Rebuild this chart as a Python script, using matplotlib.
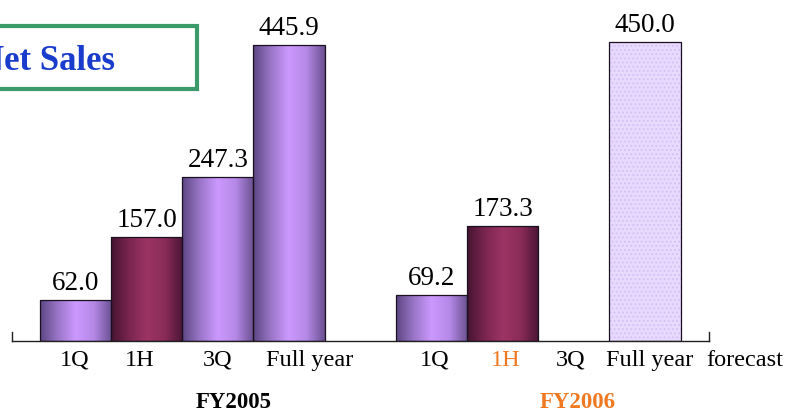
import numpy as np
import matplotlib.pyplot as plt
from matplotlib.colors import LinearSegmentedColormap
from matplotlib.patches import Rectangle

periods = ['1Q', '1H', '3Q', 'Full year']
fy2005 = [62.0, 157.0, 247.3, 445.9]
fy2006 = [69.2, 173.3, None, 450.0]   # 3Q not reported yet, full year is forecast
groups = ['FY2005', 'FY2006']

plt.rcParams['font.family'] = ['Liberation Serif', 'DejaVu Serif']
plt.rcParams['hatch.linewidth'] = 0.8

W, H = 786, 414
fig = plt.figure(figsize=(W / 100, H / 100), dpi=100)
# axes from x=12px to 709px, baseline at y=342px
ax = fig.add_axes([12 / W, (H - 342) / H, (709 - 12) / W, 342 / H])
ax.set_xlim(-0.89, 8.9)
ax.set_ylim(0, 515)

purple = LinearSegmentedColormap.from_list(
    'purple', ['#5c4682', '#9a76c8', '#cc99ff', '#b488e6', '#6a5090'])
maroon = LinearSegmentedColormap.from_list(
    'maroon', ['#451430', '#7a2550', '#9c3464', '#8a2c58', '#4a1535'])
grad = np.linspace(0, 1, 256).reshape(1, -1)


def gradient_bar(x, h, cmap):
    b = ax.bar(x, h, width=1.0, color='none', edgecolor='#1a1020',
               linewidth=0.9, zorder=3)[0]
    im = ax.imshow(grad, cmap=cmap, aspect='auto', zorder=2,
                   extent=(x - 0.5, x + 0.5, 0, h), interpolation='bicubic')
    im.set_clip_path(b)
    return b


x2005 = np.arange(4)
x2006 = np.arange(4) + 5

for i, (x, v) in enumerate(zip(x2005, fy2005)):
    gradient_bar(x, v, maroon if periods[i] == '1H' else purple)
    ax.text(x, v + 16.5, f'{v:.1f}', ha='center', va='baseline', fontsize=19.5)

for i, (x, v) in enumerate(zip(x2006, fy2006)):
    if v is None:
        continue
    if periods[i] == 'Full year':
        # forecast bar: pale dotted fill, then the outline on top
        ax.bar(x, v, width=1.0, color='#e8d9ff', edgecolor='#d4bff6',
               linewidth=0, hatch='....', zorder=2)
        ax.bar(x, v, width=1.0, color='none', edgecolor='#1a1020',
               linewidth=0.9, zorder=3)
    else:
        gradient_bar(x, v, maroon if periods[i] == '1H' else purple)
    ax.text(x, v + 16.5, f'{v:.1f}', ha='center', va='baseline', fontsize=19.5)

ax.set_xticks([])
ax.set_yticks([])
ax.spines['top'].set_visible(False)
for s in ['bottom', 'left', 'right']:
    ax.spines[s].set_linewidth(1.0)
    ax.spines[s].set_color('#202020')
for s in ['left', 'right']:
    ax.spines[s].set_bounds(0, 14)

# category labels under the axis
label_x = [-0.01, 0.91, 2.0, 3.29, 5.04, 6.04, 6.95, 8.07]
label_txt = periods + periods
label_col = ['black'] * 5 + ['#f07820', 'black', 'black']
for x, t, c in zip(label_x, label_txt, label_col):
    ax.text(x, -36, t, ha='center', va='baseline', fontsize=17.5, color=c,
            clip_on=False)
ax.text(9.4, -36, 'forecast', ha='center', va='baseline', fontsize=17.5,
        clip_on=False)

ax.text(2.23, -99, groups[0], ha='center', va='baseline', fontsize=16.5,
        fontweight='bold', clip_on=False)
ax.text(7.05, -99, groups[1], ha='center', va='baseline', fontsize=16.5,
        fontweight='bold', color='#f07820', clip_on=False)

# title box
fig.patches.append(Rectangle((-20 / W, (H - 89.5) / H), 217 / W, 63 / H,
                             transform=fig.transFigure, fill=False,
                             edgecolor='#3a9a6a', linewidth=3))
fig.text(115 / W, (H - 70) / H, 'Net Sales', ha='right', va='baseline',
         fontsize=25, fontweight='bold', color='#1a3ccc')

fig.savefig('out.png', dpi=100)
